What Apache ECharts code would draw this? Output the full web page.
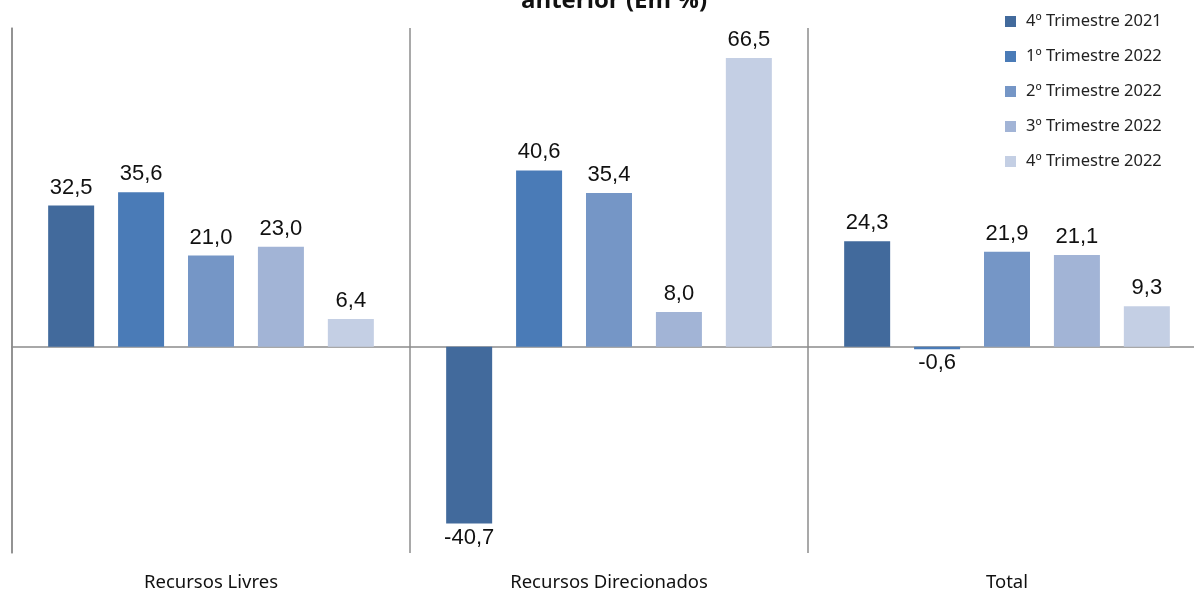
<!DOCTYPE html>
<html>
<head>
<meta charset="utf-8">
<script src="https://cdn.jsdelivr.net/npm/echarts@6/dist/echarts.min.js"></script>
<style>
html,body{margin:0;padding:0;background:#fff;overflow:hidden;}
#wrap{width:1194px;height:592px;overflow:hidden;}
#chart{width:1218px;height:592px;}
</style>
</head>
<body>
<div id="wrap"><div id="chart"></div></div>
<script>
// Categories and quarterly growth rates (%)
const categories = ['Recursos Livres', 'Recursos Direcionados', 'Total'];
const seriesNames = ['4º Trimestre 2021', '1º Trimestre 2022', '2º Trimestre 2022', '3º Trimestre 2022', '4º Trimestre 2022'];
const q4_2021 = [32.5, -40.7, 24.3];
const q1_2022 = [35.6, 40.6, -0.6];
const q2_2022 = [21.0, 35.4, 21.9];
const q3_2022 = [23.0, 8.0, 21.1];
const q4_2022 = [6.4, 66.5, 9.3];

const seriesValues = [q4_2021, q1_2022, q2_2022, q3_2022, q4_2022];
const colors = ['#426A9C', '#4A7BB7', '#7596C6', '#A2B4D6', '#C4CFE4'];

const fmt = v => v.toFixed(1).replace('.', ',');

const chart = echarts.init(document.getElementById('chart'));
chart.setOption({
  animation: false,
  backgroundColor: '#ffffff',
  title: {
    text: 'anterior (Em %)',
    left: 609,
    textAlign: 'center',
    top: -16,
    textStyle: { fontFamily: 'Open Sans', fontWeight: 'bold', fontSize: 24, color: '#111' }
  },
  legend: {
    orient: 'vertical',
    left: 1000,
    top: 7,
    itemWidth: 11,
    itemHeight: 11,
    itemGap: 16,
    icon: 'rect',
    textStyle: { fontFamily: 'Noto Sans', fontSize: 16.5, lineHeight: 19, color: '#222', padding: [0, 0, 0, 5] },
    data: seriesNames
  },
  grid: { left: 12, top: 28, bottom: 37, right: 12, containLabel: false },
  xAxis: {
    type: 'category',
    data: categories,
    axisLine: { onZero: true, lineStyle: { color: '#8c8c8c', width: 1.5 } },
    axisTick: { show: false },
    axisLabel: { margin: 20, fontFamily: 'Noto Sans', fontSize: 18.5, color: '#111' },
    splitLine: { show: true, lineStyle: { color: '#8c8c8c', width: 1.5 } }
  },
  yAxis: {
    type: 'value',
    min: -47.5,
    max: 73.4,
    axisLine: { show: true, lineStyle: { color: '#8c8c8c', width: 1.5 } },
    axisTick: { show: false },
    axisLabel: { show: false },
    splitLine: { show: false }
  },
  series: seriesValues.map((vals, i) => ({
    name: seriesNames[i],
    type: 'bar',
    barWidth: 46,
    barGap: '52%',
    itemStyle: { color: colors[i] },
    data: vals.map(v => ({
      value: v,
      label: {
        show: true,
        position: v < 0 ? 'bottom' : 'top',
        distance: v < 0 ? 3 : 7,
        formatter: () => fmt(v),
        fontFamily: 'Liberation Sans',
        fontSize: 22,
        color: '#111'
      }
    }))
  }))
});
</script>
</body>
</html>
